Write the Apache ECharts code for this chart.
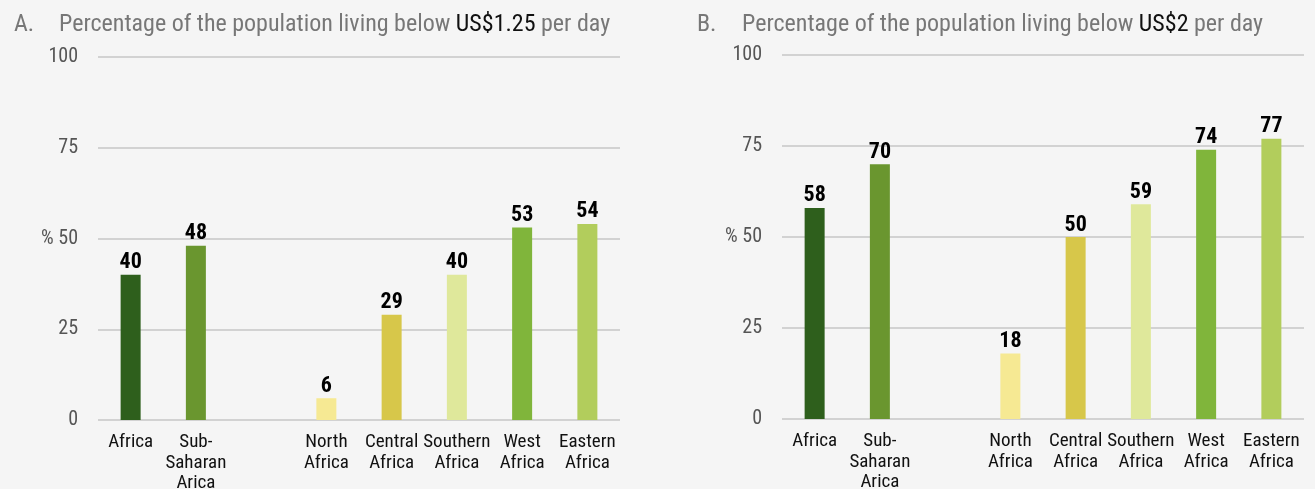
<!DOCTYPE html>
<html>
<head>
<meta charset="utf-8">
<script src="https://cdn.jsdelivr.net/npm/echarts@6/dist/echarts.min.js"></script>
<style>
  html, body { margin: 0; padding: 0; background: #f5f5f5; }
  #chart { width: 1315px; height: 489px; }
</style>
</head>
<body>
<div id="chart"></div>
<script>
// Regions, with an empty slot separating the aggregates from the sub-regions
const categories = ['Africa', 'Sub-\nSaharan\nArica', '', 'North\nAfrica', 'Central\nAfrica', 'Southern\nAfrica', 'West\nAfrica', 'Eastern\nAfrica'];
// Share of population below US$1.25 per day (%)
const belowUsd125 = [40, 48, null, 6, 29, 40, 53, 54];
// Share of population below US$2 per day (%)
const belowUsd2 = [58, 70, null, 18, 50, 59, 74, 77];
// Y-axis ticks
const yTicks = [0, 25, 50, 75, 100];

const barColors = ['#2e5f1c', '#6a962f', '#ffffff', '#f6e993', '#d7c74a', '#dfe89b', '#80b53b', '#b2cd5c'];
const FONT = '"Roboto Condensed", "Liberation Sans", sans-serif';

function yAxis(gridIndex) {
  return {
    type: 'value', gridIndex: gridIndex, min: yTicks[0], max: yTicks[yTicks.length - 1], interval: 25,
    axisLine: { show: false }, axisTick: { show: false },
    splitLine: { lineStyle: { color: '#d2d2d2', width: 2 } },
    axisLabel: {
      margin: 20, color: '#555', fontFamily: FONT, fontSize: 20,
      formatter: v => (v === 50 ? '% 50' : String(v))
    }
  };
}
function xAxis(gridIndex) {
  return {
    type: 'category', gridIndex: gridIndex, data: categories,
    axisLine: { show: false }, axisTick: { show: false },
    axisLabel: { interval: 0, margin: 12, color: '#111', fontFamily: FONT, fontSize: 19, lineHeight: 20.5 }
  };
}
function bars(values, idx) {
  return {
    type: 'bar', xAxisIndex: idx, yAxisIndex: idx, barWidth: 20,
    data: values.map((v, i) => ({ value: v, itemStyle: { color: barColors[i] } })),
    label: {
      show: true, position: 'top', distance: 1, color: '#000',
      fontFamily: FONT, fontWeight: 'bold', fontSize: 22
    }
  };
}
function title(letter, amount, left) {
  const base = { fontFamily: FONT, fontSize: 24, fontWeight: 'normal' };
  return {
    left: left, top: 8,
    text: '{l|' + letter + '}{g|Percentage of the population living below }{k|' + amount + '}{g| per day}',
    textStyle: {
      rich: {
        l: Object.assign({ color: '#777', width: 45 }, base),
        g: Object.assign({ color: '#777' }, base),
        k: Object.assign({ color: '#111' }, base)
      }
    }
  };
}

const chart = echarts.init(document.getElementById('chart'));
chart.setOption({
  backgroundColor: '#f5f5f5',
  animation: false,
  title: [title('A.', 'US$1.25', 9), title('B.', 'US$2', 692)],
  grid: [
    { left: 98, right: 695, top: 57, bottom: 69, containLabel: false, outerBoundsMode: 'none' },
    { left: 782, right: 11, top: 55, bottom: 70, containLabel: false, outerBoundsMode: 'none' }
  ],
  xAxis: [xAxis(0), xAxis(1)],
  yAxis: [yAxis(0), yAxis(1)],
  series: [bars(belowUsd125, 0), bars(belowUsd2, 1)]
});
</script>
</body>
</html>
